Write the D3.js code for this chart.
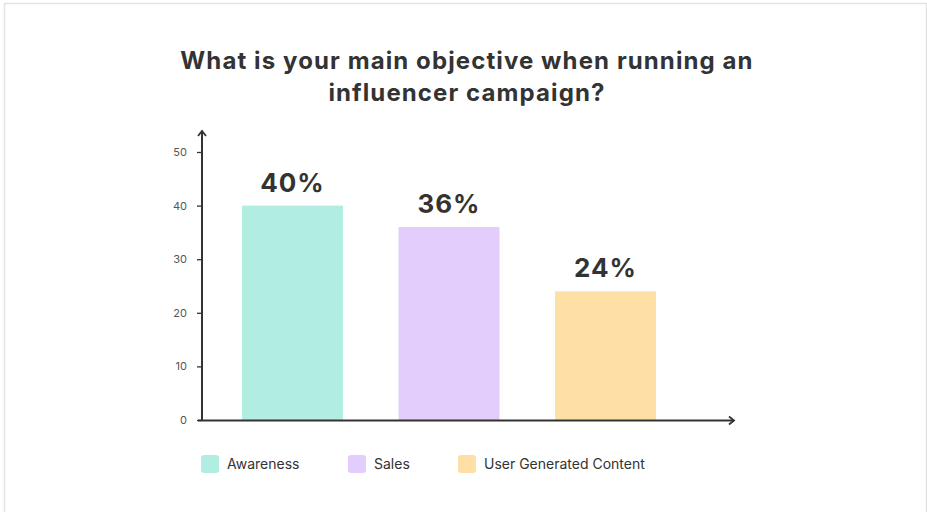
<!DOCTYPE html>
<html>
<head>
<meta charset="utf-8">
<script src="https://cdn.jsdelivr.net/npm/d3@7"></script>
<style>
  html, body { margin: 0; padding: 0; background: #fff; }
  svg { display: block; font-family: Inter, "Open Sans", sans-serif; }
</style>
</head>
<body>
<svg id="chart" width="927" height="512"></svg>
<script>
// Survey results: main objective when running an influencer campaign
const categories = ["Awareness", "Sales", "User Generated Content"];
const values = [40, 36, 24];
const colors = ["#b1ede0", "#e2cdfd", "#fedfa6"];
const yTicks = [0, 10, 20, 30, 40, 50];
const titleLines = ["What is your main objective when running an", "influencer campaign?"];

const svg = d3.select("#chart");
const ink = "#333333";

// card outline
svg.append("rect")
  .attr("x", 4.5).attr("y", 3.5)
  .attr("width", 922).attr("height", 520)
  .attr("fill", "#fff").attr("stroke", "#e2e2e2").attr("stroke-width", 1.5);

// title
svg.append("text")
  .attr("text-anchor", "middle")
  .attr("font-size", 24).attr("font-weight", 700).attr("fill", ink)
  .attr("letter-spacing", 1.1)
  .selectAll("tspan").data(titleLines).join("tspan")
  .attr("x", 467).attr("y", (d, i) => 69 + i * 32)
  .text(d => d);

const x0 = 202;
const y = d3.scaleLinear().domain([0, 50]).range([420, 152]);
const x = d3.scaleBand().domain(categories).range([242, 656]).paddingInner(0.3546).paddingOuter(0);

// bars
svg.selectAll("rect.bar").data(values).join("rect")
  .attr("class", "bar")
  .attr("x", (d, i) => x(categories[i]))
  .attr("y", d => y(d))
  .attr("width", x.bandwidth())
  .attr("height", d => y(0) - y(d))
  .attr("fill", (d, i) => colors[i]);

// value labels
svg.selectAll("text.val").data(values).join("text")
  .attr("class", "val")
  .attr("x", (d, i) => x(categories[i]) + x.bandwidth() / 2)
  .attr("y", d => y(d) - 14)
  .attr("text-anchor", "middle")
  .attr("font-size", 26).attr("font-weight", 700).attr("fill", ink)
  .attr("letter-spacing", 1)
  .text(d => d + "%");

// y axis
const yAxis = d3.axisLeft(y).tickValues(yTicks).tickSize(5).tickPadding(10);
const gy = svg.append("g").attr("transform", `translate(${x0},0)`).call(yAxis);
gy.select(".domain").remove();
gy.selectAll(".tick line").attr("stroke", ink).attr("stroke-width", 1.3);
gy.selectAll(".tick text").attr("fill", "#555").attr("font-size", 11).attr("font-family", "Inter, 'Open Sans', sans-serif");

// axis lines with arrow heads
svg.append("line").attr("x1", x0).attr("x2", x0).attr("y1", 421).attr("y2", 131)
  .attr("stroke", ink).attr("stroke-width", 2);
svg.append("path").attr("d", `M${x0 - 4},${136} L${x0},${131} L${x0 + 4},${136}`)
  .attr("fill", "none").attr("stroke", ink).attr("stroke-width", 1.8);
svg.append("line").attr("x1", x0 - 4).attr("x2", 734).attr("y1", 420.5).attr("y2", 420.5)
  .attr("stroke", ink).attr("stroke-width", 2);
svg.append("path").attr("d", `M729,416.5 L734,420.5 L729,424.5`)
  .attr("fill", "none").attr("stroke", ink).attr("stroke-width", 1.8);

// legend
const legendX = [201, 348, 458];
const lg = svg.selectAll("g.legend").data(categories).join("g")
  .attr("class", "legend")
  .attr("transform", (d, i) => `translate(${legendX[i]},455)`);
lg.append("rect").attr("width", 18).attr("height", 18).attr("rx", 3)
  .attr("fill", (d, i) => colors[i]);
lg.append("text").attr("x", 26).attr("y", 14)
  .attr("font-size", 14).attr("fill", ink)
  .text(d => d);
</script>
</body>
</html>
